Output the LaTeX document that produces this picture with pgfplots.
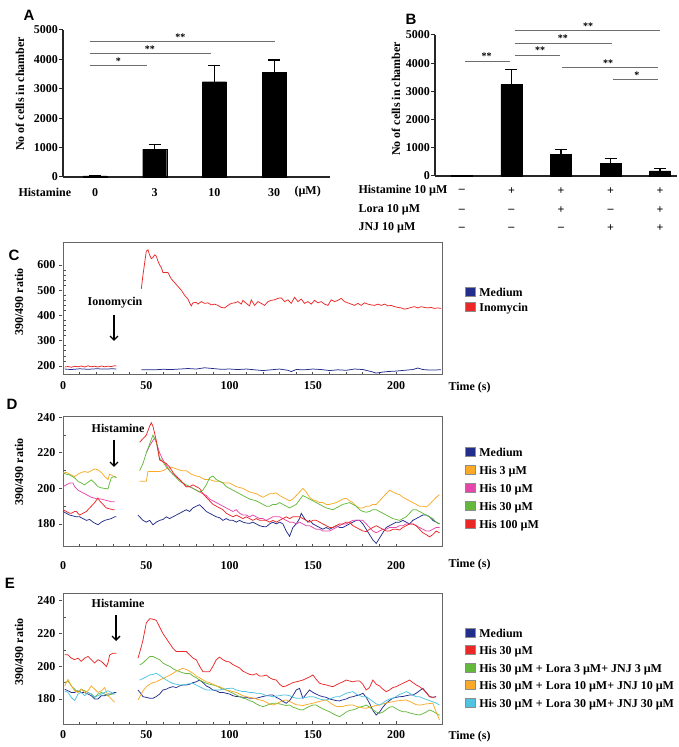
\documentclass[border=0pt]{standalone}
\usepackage{pgfplots}
\pgfplotsset{compat=1.18}
\usepackage{fontspec}
\setmainfont{Liberation Serif}
\newfontfamily\lsans{Liberation Sans}
\usetikzlibrary{arrows.meta}
\definecolor{cmed}{RGB}{35,45,140}
\definecolor{corg}{RGB}{250,170,40}
\definecolor{cpink}{RGB}{230,70,170}
\definecolor{cgreen}{RGB}{100,185,60}
\definecolor{cred}{RGB}{235,40,40}
\definecolor{ccyan}{RGB}{80,195,225}
\definecolor{sig}{RGB}{110,110,110}
\newcommand\tf{\fontsize{12}{14}\selectfont\bfseries}
\newcommand\stf{\fontsize{10}{11}\selectfont\bfseries}
\pgfplotsset{
  barax/.style={scale only axis, axis lines*=left, clip=false,
    axis line style={line width=1.3pt, black!85},
    ymin=0, ymax=5000, ytick={0,1000,...,5000},
    tick align=outside, major tick length=4pt,
    ytick style={line width=1pt, black!85},
    x tick style={draw=none},
    tick label style={font=\tf},
    /pgf/number format/assume math mode=true,
    /pgf/number format/1000 sep={},
    yticklabel style={inner sep=1pt},
    ybar, bar shift=0pt,
    error bars/error bar style={line width=1.2pt, black},
    error bars/error mark options={line width=1.2pt, black, mark size=6pt, rotate=90}},
  traceax/.style={scale only axis, width=379pt, xmin=0, xmax=227.5,
    axis line style={line width=1pt, black!60},
    tick pos=left, tick align=inside,
    xtick={0,50,...,200}, minor x tick num=4,
    major tick length=3pt, minor tick length=2.5pt,
    every tick/.style={black!70, line width=0.8pt},
    every major y tick/.append style={xshift=-4pt},
    tick label style={font=\tf},
    /pgf/number format/assume math mode=true,
    xticklabel style={yshift=-3pt},
    yticklabel style={xshift=-4pt},
    unbounded coords=jump,
    every axis plot/.append style={line width=0.75pt},
    legend cell align=left,
    legend image code/.code={\draw[#1, fill, draw=black!45, line width=0.4pt] (0pt,-3pt) rectangle (10pt,6pt);},
    legend style={draw=none, fill=none, font=\tf, anchor=north west, inner sep=0pt, column sep=3pt,
      nodes={inner sep=1pt, text height=9pt, text depth=2.5pt}}},
}
\begin{document}
\begin{tikzpicture}[x=1pt,y=1pt]
\path[use as bounding box] (0,0) rectangle (678,747);

% ---------------- Panel A ----------------
\begin{axis}[barax, at={(63pt,570pt)}, anchor=south west, width=267pt, height=147pt,
  xmin=-0.536, xmax=3.936, xtick={0,1,2,3}, xticklabels={0,3,10,30},
  xticklabel style={yshift=-4pt}, bar width=24pt]
\addplot[fill=black, draw=black, error bars/.cd, y dir=plus, y explicit]
  coordinates {(0,35) +- (0,10) (1,942) +- (0,170) (2,3240) +- (0,545) (3,3548) +- (0,430)};
\draw[sig, line width=1pt] (axis cs:-0.084,3786) -- (axis cs:0.87,3786);
\draw[sig, line width=1pt] (axis cs:-0.084,4207) -- (axis cs:1.94,4207);
\draw[sig, line width=1pt] (axis cs:-0.084,4592) -- (axis cs:3.02,4592);
\node[font=\stf, anchor=south, inner sep=1pt] at (axis cs:0.39,3786) {*};
\node[font=\stf, anchor=south, inner sep=1pt] at (axis cs:0.92,4207) {**};
\node[font=\stf, anchor=south, inner sep=1pt] at (axis cs:1.43,4592) {**};
\end{axis}
\node[font=\tf, anchor=west] at (15,747-192) {Histamine};
\node[font=\tf, anchor=west] at (291,747-192) {(µM)};
\node[font=\tf, rotate=90] at (20,747-94) {No of cells in chamber};
\node[font=\lsans\fontsize{15}{16}\selectfont\bfseries] at (29,747-15) {A};

% ---------------- Panel B ----------------
\begin{axis}[barax, at={(435pt,571pt)}, anchor=south west, width=242pt, height=141pt,
  xmin=-0.545, xmax=4.343, xtick=\empty, bar width=21pt]
\addplot[fill=black, draw=black, error bars/.cd, y dir=plus, y explicit]
  coordinates {(0,20) +- (0,8) (1,3238) +- (0,548) (2,761) +- (0,190) (3,440) +- (0,190) (4,179) +- (0,85)};
\draw[sig, line width=1pt] (axis cs:0.06,4071) -- (axis cs:0.97,4071);
\draw[sig, line width=1pt] (axis cs:1.07,4286) -- (axis cs:1.98,4286);
\draw[sig, line width=1pt] (axis cs:1.07,4714) -- (axis cs:3.03,4714);
\draw[sig, line width=1pt] (axis cs:1.07,5143) -- (axis cs:4.0,5143);
\draw[sig, line width=1pt] (axis cs:2.02,3857) -- (axis cs:3.96,3857);
\draw[sig, line width=1pt] (axis cs:3.05,3429) -- (axis cs:3.96,3429);
\node[font=\stf, anchor=south, inner sep=1pt] at (axis cs:0.5,4071) {**};
\node[font=\stf, anchor=south, inner sep=1pt] at (axis cs:1.58,4286) {**};
\node[font=\stf, anchor=south, inner sep=1pt] at (axis cs:2.04,4714) {**};
\node[font=\stf, anchor=south, inner sep=1pt] at (axis cs:2.55,5143) {**};
\node[font=\stf, anchor=south, inner sep=1pt] at (axis cs:2.95,3857) {**};
\node[font=\stf, anchor=south, inner sep=1pt] at (axis cs:3.53,3429) {*};
% treatment table
\node[font=\tf] at (axis cs:0,-545) {--};
\node[font=\tf] at (axis cs:1,-545) {+};
\node[font=\tf] at (axis cs:2,-545) {+};
\node[font=\tf] at (axis cs:3,-545) {+};
\node[font=\tf] at (axis cs:4,-545) {+};
\node[font=\tf] at (axis cs:0,-1220) {--};
\node[font=\tf] at (axis cs:1,-1220) {--};
\node[font=\tf] at (axis cs:2,-1220) {+};
\node[font=\tf] at (axis cs:3,-1220) {--};
\node[font=\tf] at (axis cs:4,-1220) {+};
\node[font=\tf] at (axis cs:0,-1860) {--};
\node[font=\tf] at (axis cs:1,-1860) {--};
\node[font=\tf] at (axis cs:2,-1860) {--};
\node[font=\tf] at (axis cs:3,-1860) {+};
\node[font=\tf] at (axis cs:4,-1860) {+};
\end{axis}
\node[font=\tf, anchor=west] at (355,747-191) {Histamine 10 µM};
\node[font=\tf, anchor=west] at (355,747-210) {Lora 10 µM};
\node[font=\tf, anchor=west] at (355,747-228) {JNJ 10 µM};
\node[font=\tf, rotate=90] at (396,747-99) {No of cells in chamber};
\node[font=\lsans\fontsize{15}{16}\selectfont\bfseries] at (411,747-19) {B};

% ---------------- Panel C ----------------
\begin{axis}[traceax, at={(63pt,372pt)}, anchor=south west, height=132pt,
  ymin=164.4, ymax=687, ytick={200,300,400,500,600}, minor y tick num=4,
  legend style={at={(1.06,0.67)}, row sep=1.5pt}]
\addplot[cmed] coordinates {(1,188)(5,186)(10,189)(15,187)(20,189)(25,188)(30,189)(32,188)(40,nan)
(47,185)(55,185)(60,187)(65,186)(70,188)(75,190)(80,188)(85,193)(90,190)(95,187)(100,188)(105,186)(110,188)(115,185)(120,182)(125,185)(130,188)(135,183)(137,178)(140,186)(145,185)(150,188)(155,186)(160,182)(165,185)(170,183)(175,188)(180,186)(185,178)(188,172)(192,176)(195,178)(200,180)(205,183)(210,186)(213,192)(216,186)(220,184)(227,185)};
\addplot[cred] coordinates {(1,196)(3,198)(5,195)(7,199)(9,197)(11,200)(13,196)(15,201)(17,197)(19,199)(21,196)(23,200)(25,197)(27,199)(29,198)(31,201)(32,200)(40,nan)
(47,505)(48,560)(50,655)(51,660)(52,640)(53,625)(54,630)(55,640)(56,635)(57,615)(58,600)(59,590)(60,570)(62,570)(63,570)(65,545)(67,530)(69,515)(71,500)(73,480)(75,465)(76,450)(77,438)(78,450)(80,452)(81,445)(83,455)(85,448)(87,450)(89,442)(91,445)(93,440)(95,432)(97,430)(99,440)(101,448)(103,450)(105,455)(107,445)(108,460)(110,448)(112,438)(113,462)(115,440)(117,455)(119,448)(121,440)(123,455)(125,460)(127,462)(129,468)(131,470)(133,455)(135,462)(137,448)(139,472)(141,455)(143,465)(145,448)(147,455)(149,445)(151,460)(153,450)(155,455)(157,445)(159,440)(161,462)(163,455)(165,460)(167,468)(169,455)(171,450)(173,445)(175,440)(177,448)(179,440)(181,450)(183,445)(185,442)(187,440)(189,445)(191,440)(193,445)(195,438)(197,440)(199,435)(201,432)(203,430)(205,425)(207,428)(209,432)(211,435)(213,430)(215,435)(217,432)(219,430)(221,432)(223,428)(225,430)(227,428)};
\legend{Medium, Inomycin}
\end{axis}
\node[font=\tf] at (115,747-303) {Ionomycin};
\draw[line width=1.4pt, -{Straight Barb[length=4pt,width=8pt]}] (114,747-315) -- (114,747-341);
\node[font=\tf, anchor=west] at (445,747-388) {Time (s)};
\node[font=\tf, rotate=90] at (19,747-302) {390/490 ratio};
\node[font=\lsans\fontsize{15}{16}\selectfont\bfseries] at (14,747-255) {C};

% ---------------- Panel D ----------------
\begin{axis}[traceax, at={(63pt,200pt)}, anchor=south west, height=130.5pt,
  ymin=167, ymax=240.5, ytick={180,200,220,240}, minor y tick num=1,
  xticklabel style={yshift=-8pt},
  legend style={at={(1.06,0.77)}, row sep=4.5pt}]
\addplot[cmed] coordinates {(0,187)(2,186)(4,185)(6,184.5)(8,184)(10,184)(12,183)(14,182)(16,182.5)(18,181)(20,180)(21,179.5)(23,181)(25,182)(27,182.5)(29,183)(31,184)(32,184)(40,nan)
(45,185)(47,183)(48,182)(50,181)(52,182)(54,179.5)(56,181)(58,182)(60,182.5)(62,184)(64,183)(66,184)(68,185)(70,186)(72,187)(74,188)(76,187)(78,189)(80,190)(82,190.8)(84,189)(86,187)(88,186)(90,185)(92,184)(94,183.5)(96,182)(98,183)(100,182)(102,182)(104,181)(106,182)(108,181)(110,180.5)(112,180.3)(114,181)(116,180)(118,179)(120,178.5)(122,178.4)(124,180)(126,181)(128,180)(130,181)(132,180)(134,176)(136,173)(138,178)(140,180)(142,183)(143,186)(145,183)(147,181)(148,182)(150,180)(152,179)(154,178)(156,177)(158,178)(160,177)(162,178)(164,179)(166,178)(168,178)(170,179)(172,180)(174,181)(176,182)(178,182)(180,180)(182,177)(184,174)(186,171)(188,169)(190,172)(192,175)(194,178)(196,179)(198,180)(200,181)(202,181)(204,182)(206,181)(208,180)(210,182)(212,183)(214,184)(216,185)(218,185)(220,184)(222,182)(224,181)(226,180)};
\addplot[corg] coordinates {(0,208.7)(2,209)(4,208)(6,207)(7,206.7)(9,208)(11,209)(13,209.5)(15,209)(17,210)(19,211)(21,210.4)(23,209)(25,206.7)(27,205)(28,208)(30,207)(31,206.7)(32,206)(40,nan)
(46,204)(48,204)(50,204)(51,209.5)(53,209.5)(55,209.5)(58,209.5)(60,210)(62,211)(65,212)(68,211)(71,210)(74,210)(77,208)(80,207)(82,206.6)(85,205)(88,205)(91,204)(94,204)(97,203)(100,203)(102,202)(104,201)(106,200.5)(108,200)(110,199)(112,198)(114,197.5)(116,197)(118,196)(120,195)(122,196)(124,197)(126,197)(128,197.5)(130,196)(132,195)(134,194)(136,193)(138,194)(140,196)(142,198)(144,200)(146,198)(148,195)(150,193.5)(152,193)(154,192)(156,192)(158,191)(160,191)(162,191.5)(164,192)(166,193)(168,194)(170,194.5)(172,193)(174,192)(176,190)(178,189)(180,189)(182,190)(184,190)(186,191)(188,191)(190,193)(192,195)(194,197)(196,199)(198,198)(200,197)(202,196.5)(204,195)(206,194)(208,193)(210,192)(212,191)(214,190)(216,190)(218,189.5)(220,191)(222,193)(224,195)(226,196.5)};
\addplot[cpink] coordinates {(0,201)(2,202)(4,203)(6,203)(7,201)(9,199)(11,198)(13,197)(15,196)(17,195)(19,194.5)(21,194)(23,194)(25,193.5)(27,193)(29,192.5)(31,192.5)(40,nan)
(50,220)(52,224)(54,227)(55,228.5)(56,226)(58,220)(60,216)(62,213)(64,210)(66,208)(68,207)(70,205)(72,203)(74,201)(76,201)(78,200)(80,199)(82,198)(84,197)(86,196)(88,194)(90,193)(92,192)(94,191)(96,190)(98,189)(100,188)(102,187)(104,188)(106,186)(108,185)(110,185)(112,184)(114,185)(116,184)(118,183)(120,183)(122,182)(124,183)(126,184)(128,184)(130,184)(132,183)(134,182)(136,181)(138,181)(140,180)(142,181)(144,180)(146,179)(148,179)(150,178)(152,177)(154,177)(156,176)(158,176)(160,176)(162,177)(164,178)(166,179)(168,180)(170,180)(172,181)(174,182)(176,182)(178,182)(180,182)(182,180)(184,178)(186,176)(188,175)(190,176)(192,177)(194,177)(196,178)(198,178)(200,178)(202,179)(204,179)(206,180)(208,180)(210,180)(212,179)(214,178)(216,177)(218,176)(220,176)(222,177)(224,178)(226,178)};
\addplot[cgreen] coordinates {(0,208.7)(2,208)(4,207.6)(6,206.5)(7,205.9)(9,204)(11,203)(13,202)(15,203.5)(17,204.8)(19,203)(21,201)(23,200.3)(25,200)(27,199.7)(28,203)(29,206)(31,206.7)(32,206)(40,nan)
(46,210)(48,214)(50,220)(52,225)(54,230)(56,226)(58,217)(60,215)(62,212)(64,210)(66,208)(68,206)(70,204)(72,203)(74,202)(76,201)(78,200)(80,199)(82,198)(84,199)(86,202)(88,206)(90,207)(92,205)(94,204)(96,203)(98,201)(100,200)(102,199)(104,198)(106,197)(108,196)(110,195)(112,194)(114,193.5)(116,193)(118,192)(120,191)(122,190)(124,190)(126,191)(128,191)(130,192)(132,191)(134,190)(136,189)(138,190)(140,191)(142,193.5)(144,196)(146,195)(148,194)(150,193)(152,192)(154,191)(156,190)(158,189)(160,188.5)(162,188)(164,189)(166,190)(168,191)(170,191.5)(172,192)(174,191)(176,190)(178,188)(180,187)(182,186.6)(184,187)(186,188)(188,188)(190,187)(192,186)(194,185)(196,184)(198,183)(200,182.5)(202,182)(204,183)(206,184)(208,186)(210,188)(212,188)(214,187)(216,186)(218,185)(220,184)(222,183)(224,181)(226,180)};
\addplot[cred] coordinates {(0,188)(2,187)(4,186)(5,186)(7,187)(8,187)(10,185)(12,186)(14,187)(16,189)(17,190)(19,192)(21,194.6)(22,193)(23,192)(25,190)(26,189)(28,188.5)(30,188)(31,188)(40,nan)
(46,226)(48,228)(50,230)(52,235)(53,237)(54,235)(56,227)(58,216)(60,215)(62,214)(64,212)(66,209)(68,206.6)(70,205)(72,203)(74,201)(76,201)(78,202)(80,201)(82,200)(84,197)(86,195)(88,193)(90,191)(92,190)(94,189)(96,188)(98,186)(100,185)(102,184)(104,185)(106,184)(108,183)(110,184)(112,183)(114,182)(116,183)(118,182)(120,182)(122,182)(124,181)(126,182)(128,181)(130,182)(132,183)(134,184)(136,183)(138,184)(140,184)(142,184)(144,183)(146,182)(148,181)(150,182)(152,182)(154,181)(156,180)(158,179)(160,178)(162,178)(164,179)(166,180)(168,180)(170,181)(172,181)(174,179)(176,178)(178,177)(180,176)(182,175.7)(184,177)(186,178)(188,179)(190,178)(192,177)(194,176)(196,176)(198,177)(200,177)(202,176.6)(204,178)(206,179)(208,180)(210,180)(212,179)(214,177)(216,175)(218,174)(220,172.7)(222,174)(224,176)(226,175)};
\legend{Medium, His 3 µM, His 10 µM, His 30 µM, His 100 µM}
\end{axis}
\node[font=\tf] at (118,747-428) {Histamine};
\draw[line width=1.4pt, -{Straight Barb[length=4pt,width=8pt]}] (114,747-440) -- (114,747-467);
\node[font=\tf, anchor=west] at (445,747-565) {Time (s)};
\node[font=\tf, rotate=90] at (19,747-472) {390/490 ratio};
\node[font=\lsans\fontsize{15}{16}\selectfont\bfseries] at (12,747-404) {D};

% ---------------- Panel E ----------------
\begin{axis}[traceax, at={(63pt,23pt)}, anchor=south west, height=131pt,
  ymin=164.7, ymax=244.8, ytick={180,200,220,240}, minor y tick num=1,
  legend style={at={(1.06,0.74)}, row sep=4pt}]
\addplot[cmed] coordinates {(1,186)(3,185)(5,184)(7,184)(9,185)(11,184)(13,184)(15,183)(17,182)(19,180)(21,180)(23,182)(25,182)(27,183)(29,183)(31,184)(32,184)(40,nan)
(45,185.5)(47,183)(48,181.4)(50,181)(52,180.5)(54,180.4)(56,181.5)(58,183)(60,185.5)(62,186)(64,187)(66,187.5)(68,187)(70,188)(72,188.6)(74,188.6)(76,189)(78,190)(80,190.5)(82,191.6)(84,190)(86,188)(88,187)(90,185.5)(92,185)(94,184)(96,184)(98,183.5)(100,183)(102,182)(104,181.5)(106,181.4)(108,181)(110,181)(112,180.5)(114,180.4)(116,180.4)(118,181)(120,181.5)(122,182)(124,182.4)(126,182.4)(128,181)(130,180)(132,178.5)(134,177.4)(136,179)(138,182)(140,185.5)(142,186.5)(144,180.4)(146,183)(148,185.5)(150,184)(152,183)(154,182)(156,181.4)(158,181)(160,180)(162,179.5)(164,179)(166,178.8)(168,179.5)(170,180)(172,181)(174,181.4)(176,182)(178,182.5)(180,183.5)(182,181)(184,177.4)(186,173)(188,170.2)(190,172)(192,175)(194,177.4)(196,179)(198,180.5)(200,181)(202,181.4)(204,181.5)(206,182)(208,182.4)(210,182.4)(212,183.5)(214,185)(216,186.5)(218,184)(220,181.4)(222,181)(224,181.4)};
\addplot[cred] coordinates {(1,207)(3,207)(5,205)(7,204)(9,205)(11,203)(13,205)(15,206)(17,204)(19,202)(21,204)(23,203)(25,201)(26,199.8)(27,202)(28,206.9)(30,208)(32,208)(40,nan)
(45,204.9)(47,212)(48,216)(50,226.5)(52,229)(53,229)(55,228.5)(56,228)(58,224)(60,220)(62,217)(64,214)(66,211)(68,209)(70,209)(72,209)(74,209)(76,207)(78,205)(80,204)(82,200)(84,196.7)(86,196.7)(88,196.7)(90,200)(92,204)(94,205.6)(96,204)(98,203)(100,202.6)(102,201)(104,200)(106,199)(108,197)(110,196)(112,195)(114,194.7)(116,195.5)(118,194)(120,194)(122,194.7)(124,193)(126,192)(128,191.6)(130,189)(132,187.5)(134,188)(136,189)(138,190)(140,190.5)(142,191)(144,191.6)(146,192.5)(148,193.5)(150,194.7)(152,192)(154,189.6)(156,189)(158,188.6)(160,188)(162,187.5)(164,188.6)(166,189.6)(168,190.5)(170,191.6)(172,191)(174,190.5)(176,191)(178,191)(180,189)(182,185.5)(184,187)(186,191.6)(188,189)(190,188)(192,186)(194,184.5)(196,185.5)(198,187)(200,187.5)(202,188.6)(204,189.6)(206,190.5)(208,191.6)(210,190)(212,188.6)(214,187.5)(216,186)(218,184)(220,181.4)(222,181)(224,181.4)};
\addplot[cgreen] coordinates {(1,190)(3,191)(5,188)(7,186)(9,184)(11,186)(13,185)(15,184)(17,183)(19,181)(21,183)(23,184)(25,183)(27,182)(29,183)(31,183)(40,nan)
(46,200.8)(48,202)(50,204)(52,205.9)(54,206)(56,205)(58,204)(60,202)(62,200.8)(64,200)(66,198.5)(68,197.5)(70,196.7)(72,196)(74,195.5)(76,195.7)(78,194)(80,193)(82,191.6)(84,190.5)(86,189.6)(88,189)(90,188.6)(92,188)(94,187)(96,186)(98,185.5)(100,184.5)(102,183.5)(104,182.4)(106,181.4)(108,180.5)(110,180)(112,179)(114,178.3)(116,177)(118,176)(120,175.3)(122,176)(124,176.8)(126,177.4)(128,177.4)(130,177)(132,176.5)(134,176)(136,176.3)(138,175)(140,174.3)(142,173.5)(144,173.3)(146,174.5)(148,175.5)(150,176.3)(152,176.3)(154,175)(156,174)(158,173)(160,172.2)(162,171)(164,170)(166,169.2)(168,170.5)(170,172)(172,173)(174,173.3)(176,174)(178,175)(180,175.5)(182,176.3)(184,175)(186,173.5)(188,172)(190,171.2)(192,172)(194,173.5)(196,175)(198,175.3)(200,174)(202,173)(204,172.2)(206,172.2)(208,171.5)(210,171)(212,170.5)(214,170.2)(216,171)(218,172)(220,173.3)(222,172.5)(224,171.2)(226,170)};
\addplot[corg] coordinates {(1,188)(3,192)(5,188)(7,185)(9,184)(11,186)(13,184)(15,185)(17,188)(19,186)(21,184)(23,185)(25,187)(27,182)(29,180)(31,178)(40,nan)
(45,179.4)(47,183)(48,185)(50,187.5)(52,189)(54,190)(56,190.5)(58,191.6)(60,192.5)(62,193.5)(64,194.5)(66,195.7)(68,197)(70,198)(72,198.7)(74,198)(76,197)(78,195.7)(80,194)(82,193)(84,191.6)(86,190.5)(88,190)(90,189)(92,188)(94,187.5)(96,186.5)(98,185.5)(100,185)(102,184.5)(104,184)(106,183)(108,182)(110,181.4)(112,181)(114,180.5)(116,180)(118,179.4)(120,179)(122,178)(124,177)(126,176.3)(128,177)(130,178)(132,179)(134,179.4)(136,178.5)(138,177.5)(140,176.5)(142,176.3)(144,176)(146,176.5)(148,177)(150,177.4)(152,178)(154,178.5)(156,179)(158,179.4)(160,178)(162,176.5)(164,175.5)(166,175.3)(168,175.5)(170,176)(172,176.3)(174,176.3)(176,175.5)(178,175)(180,174.5)(182,174.3)(184,175)(186,175.5)(188,176)(190,176.3)(192,177)(194,177.5)(196,178)(198,178.3)(200,178.8)(202,179)(204,179.2)(206,179.4)(208,178.5)(210,177.5)(212,176.5)(214,176.3)(216,176.5)(218,177)(220,177.2)(222,177.4)(224,172)(226,167.2)};
\addplot[ccyan] coordinates {(1,185)(3,184)(5,181)(7,179)(9,183)(11,184)(13,182)(15,184)(17,183)(19,181)(21,182)(23,183)(25,184)(27,185)(29,184)(31,183)(40,nan)
(46,191.6)(48,192.5)(50,193.5)(52,194.7)(54,195)(56,195.7)(58,194.5)(60,193)(62,191.6)(64,190.5)(66,189.5)(68,189)(70,188.6)(72,188.6)(74,189)(76,189.3)(78,189.6)(80,188.5)(82,187.5)(84,186.5)(86,185.5)(88,185.5)(90,185.5)(92,185.5)(94,185.5)(96,186)(98,186.3)(100,186.5)(102,186.5)(104,185.5)(106,185)(108,184.5)(110,184.5)(112,184)(114,184)(116,183.5)(118,183.5)(120,183)(122,182)(124,181.8)(126,181.4)(128,181.8)(130,182)(132,182.4)(134,182.4)(136,182)(138,181)(140,180.5)(142,180.4)(144,180.8)(146,181)(148,181.4)(150,181.4)(152,180.8)(154,180)(156,179.5)(158,179.4)(160,180)(162,180.8)(164,181.4)(166,181.4)(168,182.5)(170,183.5)(172,184)(174,184.5)(176,183)(178,182)(180,181.4)(182,181.4)(184,180)(186,178.5)(188,177)(190,176.3)(192,177.5)(194,179)(196,180)(198,180.4)(200,181.5)(202,182.8)(204,183.5)(206,184.5)(208,183.5)(210,182.4)(212,181.4)(214,181.4)(216,180.5)(218,179.8)(220,179)(222,178.3)(224,177.5)(226,176.3)};
\legend{Medium, His 30 µM, His 30 µM + Lora 3 µM+ JNJ 3 µM, His 30 µM + Lora 10 µM+ JNJ 10 µM, His 30 µM + Lora 30 µM+ JNJ 30 µM}
\end{axis}
\node[font=\tf] at (118,747-603) {Histamine};
\draw[line width=1.4pt, -{Straight Barb[length=4pt,width=8pt]}] (116,747-615) -- (116,747-641);
\node[font=\tf, anchor=west] at (445,747-737) {Time (s)};
\node[font=\tf, rotate=90] at (19,747-652) {390/490 ratio};
\node[font=\lsans\fontsize{15}{16}\selectfont\bfseries] at (10,747-583) {E};
\end{tikzpicture}
\end{document}
